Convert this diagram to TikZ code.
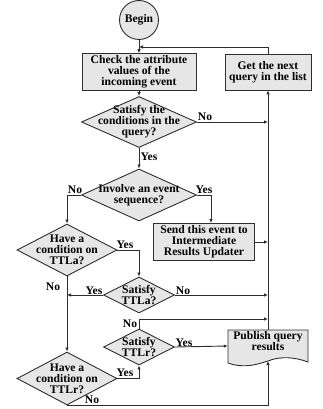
\documentclass[tikz,border=0pt]{standalone}
\usepackage{fontspec}
\setmainfont{Liberation Serif}
\usepackage{tikz}
\usepackage{xcolor}
\usetikzlibrary{arrows.meta,positioning,shapes.geometric,calc}
\definecolor{ink}{HTML}{2E2E2E}
\definecolor{cardgray}{HTML}{E6E6E6}
\tikzset{
  flowtext/.style={font=\bfseries\fontsize{11.6}{11}\selectfont},
  stepcard/.style={
    draw=ink, fill=cardgray, line width=0.9pt,
    align=center, inner sep=2pt, flowtext
  },
  startbadge/.style={
    draw=ink, fill=cardgray, line width=0.9pt, circle,
    inner sep=0pt, minimum size=39pt, flowtext
  },
  decision/.style={
    draw=ink, fill=cardgray, line width=0.9pt, diamond,
    inner sep=0pt
  },
  dtext/.style={align=center, inner sep=0pt, flowtext},
  answer/.style={inner sep=0pt, flowtext},
  flowline/.style={draw=ink, line width=0.9pt}
}
\begin{document}
\begin{tikzpicture}[x=1pt,y=-1pt,>={Latex[length=4pt,width=3.5pt]}]
  \useasboundingbox (0,0) rectangle (323,409);
  % boxes and decisions
  \node[startbadge] (begin) at (139,20) {Begin};
  \node[stepcard,minimum width=114pt,minimum height=36pt] (check) at (139,72)
    {Check the attribute\\values of the\\incoming event};
  \node[stepcard,minimum width=86pt,minimum height=36pt] (next) at (268,72)
    {Get the next\\query in the list};
  \node[decision,minimum width=115pt,minimum height=51pt,
    label={[dtext]center:{Satisfy the\\conditions in the\\query?}}] (condq) at (139,122) {};
  \node[decision,minimum width=115pt,minimum height=52pt,
    label={[dtext]center:{Involve an event\\sequence?}}] (seq) at (139,195) {};
  \node[stepcard,line width=1.4pt,minimum width=101pt,minimum height=36pt] (send) at (204,242)
    {Send this event to\\Intermediate\\Results Updater};
  \node[decision,minimum width=100pt,minimum height=52pt,
    label={[dtext]center:{Have a\\condition on\\TTLa?}}] (hasa) at (67,250) {};
  \node[decision,minimum width=71pt,minimum height=36pt,
    label={[dtext]center:{Satisfy\\TTLa?}}] (sata) at (139,295) {};
  \node[decision,minimum width=71pt,minimum height=36pt,
    label={[dtext]center:{Satisfy\\TTLr?}}] (satr) at (139,347) {};
  \node[decision,minimum width=100pt,minimum height=53pt,
    label={[dtext]center:{Have a\\condition on\\TTLr?}}] (hasr) at (67,378.5) {};
  \node[minimum width=80pt,minimum height=32pt,inner sep=0pt] (publish) at (268,346) {};
  \draw[flowline,fill=cardgray] (228,330) -- (308,330) -- (308,362)
    .. controls (295,357) and (280,356) .. (268,361)
    .. controls (258,364) and (245,369) .. (228,363) -- cycle;
  \node[dtext] (pubtext) at (268,341) {Publish query\\results};
  % junctions
  \coordinate (loop) at (139,47);
  \coordinate (j1) at (268,122);
  \coordinate (j2) at (268,242);
  \coordinate (j3) at (268,295);
  \coordinate (j4) at (67,295);
  \coordinate (j5) at (268,319);
  \coordinate (pubin) at (268,361);
  % connectors
  \draw[flowline,->] (begin) -- (check);
  \draw[flowline,->] (next.north) |- (loop);
  \draw[flowline,->] (check) -- (condq);
  \draw[flowline,->] (condq.east) -- (j1);
  \draw[flowline,->] (condq) -- (seq);
  \draw[flowline,->] (seq.west) -| (hasa.north);
  \draw[flowline,->] (seq.east) -| ([xshift=7pt]send.north);
  \draw[flowline,->] (send.east) -- (j2);
  \draw[flowline,->] (hasa.east) -| (sata.north);
  \draw[flowline,->] (sata.west) -- (j4);
  \draw[flowline,->] (sata.east) -- (j3);
  \draw[flowline,->] (hasa.south) -- (hasr.north);
  \draw[flowline,->] (hasr.east) -| (satr.south);
  \draw[flowline,->] (satr.north) |- (j5);
  \draw[flowline,->] (satr.east) -- (publish.west);
  \draw[flowline,->] (hasr.south) -| (pubin);
  \draw[flowline,->] (publish.north) -- (next.south);
  % answers
  \node[answer] (no1) at (205,117) {No};
  \node[answer] (yes1) at (149,157) {Yes};
  \node[answer] (no2) at (75,190) {No};
  \node[answer] (yes2) at (204,190) {Yes};
  \node[answer] (yes3) at (125,245) {Yes};
  \node[answer] (no3) at (53,287) {No};
  \node[answer] (yes4) at (94,291) {Yes};
  \node[answer] (no4) at (183,291) {No};
  \node[answer] (no6) at (130,324) {No};
  \node[answer] (yes6) at (184,343) {Yes};
  \node[answer] (yes5) at (125,373) {Yes};
  \node[answer] (no5) at (92,400) {No};
\end{tikzpicture}
\end{document}
